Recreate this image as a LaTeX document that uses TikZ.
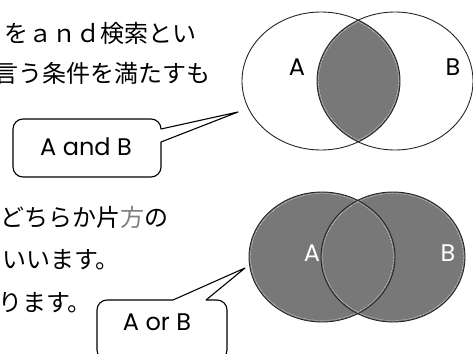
\documentclass[tikz,border=0pt]{standalone}
\usepackage{fontspec}
\setmainfont{Noto Sans CJK JP}
\newfontfamily\latinfont{Poppins}
\begin{document}
\begin{tikzpicture}[x=1pt,y=-1pt,
  jp/.style={inner sep=0pt,font=\fontsize{24}{24}\selectfont},
  lat/.style={inner sep=0pt,font=\latinfont\fontsize{24}{24}\selectfont},
  callout/.style={draw=black,line width=1.1pt,fill=white,line join=round},
  venn/.style={draw=black!85,line width=0.9pt},
  shade/.style={fill=black!53},
  edgedots/.style={draw=white,line width=0.35pt,dash pattern=on 0.8pt off 0.8pt}]
\useasboundingbox (0,0) rectangle (473,353);
\clip (0,0) rectangle (473,353);

% text
\node[jp,anchor=east] (t1) at (197,33) {をａｎｄ検索とい};
\node[jp,anchor=east] (t2) at (211,73) {言う条件を満たすも};
\node[jp,anchor=east] (t3) at (169,217) {どちらか片\textcolor{black!50}{方}の};
\node[jp,anchor=east] (t4) at (120,260) {いいます。};
\node[jp,anchor=east] (t5) at (92,303) {ります。};

% top Venn (A and B)
\coordinate (ca) at (321,81);
\coordinate (cb) at (395,81);
\begin{scope}
  \clip (ca) ellipse [x radius=79, y radius=69];
  \fill[shade] (cb) ellipse [x radius=78, y radius=69];
\end{scope}
\begin{scope}
  \clip (ca) ellipse [x radius=79, y radius=69];
  \draw[edgedots] (cb) ellipse [x radius=76.5, y radius=67.5];
\end{scope}
\begin{scope}
  \clip (cb) ellipse [x radius=78, y radius=69];
  \draw[edgedots] (ca) ellipse [x radius=77.5, y radius=67.5];
\end{scope}
\draw[venn] (ca) ellipse [x radius=79, y radius=69];
\draw[venn] (cb) ellipse [x radius=78, y radius=69];
\node[lat] (la) at (297,67) {A};
\node[lat] (lb) at (453,67) {B};

% bottom Venn (A or B)
\coordinate (da) at (322,257);
\coordinate (db) at (393,257);
\fill[shade] (da) ellipse [x radius=73, y radius=65];
\fill[shade] (db) ellipse [x radius=72, y radius=65];
\draw[edgedots] (da) ellipse [x radius=71.5, y radius=63.5];
\draw[edgedots] (db) ellipse [x radius=70.5, y radius=63.5];
\draw[venn] (da) ellipse [x radius=73, y radius=65];
\draw[venn] (db) ellipse [x radius=72, y radius=65];
\node[lat,text=white] (ma) at (312,253) {A};
\node[lat,text=white] (mb) at (448,253) {B};

% callout 1
\coordinate (tip1) at (238,112);
\draw[callout] (23,119) -- (151,119) to[out=0,in=90] (161,129) -- (tip1) -- (161,142)
  -- (161,167) to[out=-90,in=0] (151,177) -- (23,177) to[out=180,in=-90] (13,167)
  -- (13,129) to[out=90,in=180] cycle;
\node[lat] (k1) at (86,147) {A and B};

% callout 2
\coordinate (tip2) at (245,268);
\draw[callout] (107,300) -- (173,300) -- (tip2) -- (206,300) -- (217,300)
  to[out=0,in=90] (227,310) -- (227,350) to[out=-90,in=0] (217,360) -- (107,360)
  to[out=180,in=-90] (97,350) -- (97,310) to[out=90,in=180] cycle;
\node[lat] (k2) at (157,322) {A or B};
\end{tikzpicture}
\end{document}
